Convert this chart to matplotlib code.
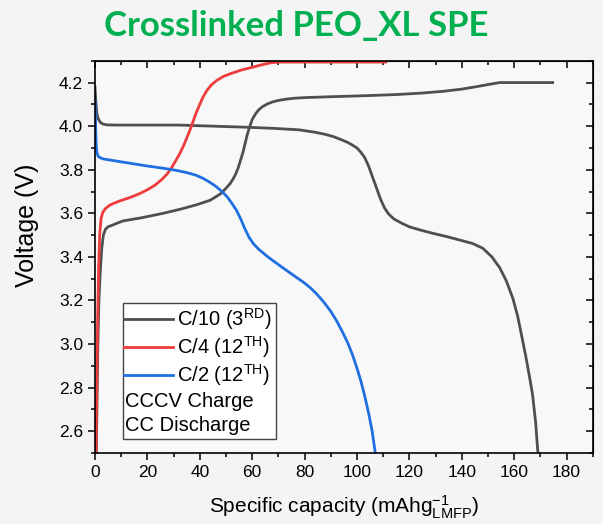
import matplotlib
matplotlib.use("Agg")
import matplotlib.pyplot as plt
from matplotlib.patches import Rectangle
from matplotlib.lines import Line2D
from matplotlib.ticker import MultipleLocator

plt.rcParams['font.family'] = ['Liberation Sans', 'DejaVu Sans']
plt.rcParams['mathtext.fontset'] = 'custom'
plt.rcParams['mathtext.rm'] = 'Liberation Sans'
plt.rcParams['mathtext.it'] = 'Liberation Sans'

# C/10, 3rd cycle (charge + discharge)
c10_chg_cap = [0.5, 0.8, 1.1, 1.5, 2.0, 2.6, 3.2, 4.0, 5.0, 6.5, 8.5, 10.7, 18, 26, 33, 39, 44, 46,
               48, 50, 51.5, 52.6, 53.7, 54.7, 55.6, 56.5, 57.3, 58.1, 59, 60, 61.2, 62.5, 64, 66,
               68, 70, 73, 76, 80, 90, 103.7, 115, 125, 133, 140, 146, 151, 154.5, 165, 174.7]
c10_chg_v = [2.5, 2.75, 3.0, 3.2, 3.33, 3.44, 3.5, 3.527, 3.538, 3.545, 3.555, 3.565, 3.58, 3.60,
             3.62, 3.64, 3.66, 3.675, 3.69, 3.715, 3.735, 3.755, 3.78, 3.81, 3.845, 3.88, 3.92,
             3.96, 3.995, 4.03, 4.055, 4.075, 4.09, 4.103, 4.112, 4.118, 4.124, 4.128, 4.131,
             4.135, 4.14, 4.145, 4.152, 4.16, 4.17, 4.182, 4.193, 4.2, 4.2, 4.2]
c10_dis_cap = [0, 0.3, 0.7, 1.2, 2, 3, 4.4, 8, 15, 32, 45, 58, 68, 78, 84, 88, 91, 94, 96.5, 98,
               100, 101.5, 103, 104.5, 106, 107.5, 109, 110.5, 112, 114, 117, 120, 124, 129, 134,
               139, 144, 148, 151.5, 154.5, 157, 159.5, 161.3, 163, 164.5, 166, 167, 168.2, 169,
               169.2]
c10_dis_v = [4.18, 4.12, 4.06, 4.035, 4.018, 4.01, 4.006, 4.005, 4.005, 4.005, 4.0, 3.995, 3.99,
             3.983, 3.972, 3.962, 3.952, 3.938, 3.925, 3.915, 3.90, 3.88, 3.855, 3.815, 3.765,
             3.715, 3.665, 3.625, 3.598, 3.575, 3.555, 3.538, 3.524, 3.508, 3.494, 3.478, 3.462,
             3.44, 3.40, 3.35, 3.29, 3.21, 3.13, 3.03, 2.94, 2.84, 2.77, 2.64, 2.51, 2.5]

# C/4, 12th cycle charge
c4_cap = [0.4, 0.7, 1.0, 1.4, 1.8, 2.3, 3, 4, 5.7, 9, 13.3, 17, 20, 23, 25.5, 27.5, 29.3, 31, 32.4,
          33.8, 35, 36.2, 37.4, 38.6, 40, 41.3, 42.8, 44.5, 46.5, 49, 52, 56, 60, 63.5, 66.7, 70,
          80, 111]
c4_v = [2.5, 2.8, 3.1, 3.35, 3.5, 3.575, 3.605, 3.622, 3.638, 3.655, 3.672, 3.69, 3.708, 3.73,
        3.755, 3.78, 3.81, 3.845, 3.875, 3.91, 3.945, 3.98, 4.02, 4.06, 4.1, 4.135, 4.165, 4.19,
        4.21, 4.228, 4.242, 4.258, 4.27, 4.281, 4.29, 4.294, 4.294, 4.294]

# C/2, 12th cycle discharge
c2_cap = [0, 0.15, 0.3, 0.45, 0.7, 1.2, 2, 3, 8, 13.3, 20, 26, 31, 35, 38.5, 41, 43.5, 46, 48.5,
          50.5, 52.3, 54, 55.6, 57.2, 58.8, 60.5, 62.5, 66, 71.7, 77, 80, 82.5, 85, 87.5, 90, 92.3,
          94.5, 96.5, 98.3, 100, 101.5, 103, 104.5, 105.8, 107]
c2_v = [4.12, 4.06, 3.98, 3.92, 3.88, 3.862, 3.855, 3.85, 3.84, 3.83, 3.817, 3.807, 3.797, 3.787,
        3.775, 3.762, 3.745, 3.725, 3.70, 3.675, 3.645, 3.614, 3.575, 3.53, 3.49, 3.46, 3.435,
        3.40, 3.35, 3.305, 3.28, 3.255, 3.225, 3.19, 3.15, 3.105, 3.055, 3.005, 2.95, 2.89,
        2.83, 2.76, 2.68, 2.6, 2.5]

gray = '#4f4f4f'
red = '#ee3b3b'
blue = '#1f6fe0'

fig = plt.figure(figsize=(6.03, 5.24), dpi=100, facecolor='#f4f4f4')
ax = fig.add_axes([0.1575, 0.1355, 0.8255, 0.7485], facecolor='#f8f8f8')

lw = 2.0
ax.plot(c10_chg_cap, c10_chg_v, color=gray, lw=lw)
ax.plot(c10_dis_cap, c10_dis_v, color=gray, lw=lw)
ax.plot(c4_cap, c4_v, color=red, lw=lw)
ax.plot(c2_cap, c2_v, color=blue, lw=lw)

ax.set_xticks(range(0, 181, 20))
ax.set_xlim(0, 190)
ax.set_ylim(2.5, 4.3)
ax.xaxis.set_minor_locator(MultipleLocator(10))
ax.yaxis.set_major_locator(MultipleLocator(0.2))
ax.yaxis.set_minor_locator(MultipleLocator(0.1))
ax.tick_params(which='both', direction='out', labelsize=12.5, width=1.1)
ax.tick_params(which='major', length=5)
ax.tick_params(which='minor', length=3)
for s in ax.spines.values():
    s.set_linewidth(1.2)

# mirrored ticks on top and right, pointing inward
top = ax.secondary_xaxis('top')
top.xaxis.set_major_locator(MultipleLocator(20))
top.xaxis.set_minor_locator(MultipleLocator(10))
top.tick_params(which='both', direction='in', labeltop=False, width=1.1)
top.tick_params(which='major', length=5)
top.tick_params(which='minor', length=3)
right = ax.secondary_yaxis('right')
right.yaxis.set_major_locator(MultipleLocator(0.2))
right.yaxis.set_minor_locator(MultipleLocator(0.1))
right.tick_params(which='both', direction='in', labelright=False, width=1.1)
right.tick_params(which='major', length=5)
right.tick_params(which='minor', length=3)

ax.set_xlabel(r'Specific capacity (mAhg$_{\mathrm{LMFP}}^{-1}$)', fontsize=15, labelpad=10)
ax.set_ylabel('Voltage (V)', fontsize=18)
ax.yaxis.set_label_coords(-0.112, 0.58)

# legend box
ax.add_patch(Rectangle((0.056, 0.036), 0.307, 0.346, transform=ax.transAxes,
                       facecolor='white', edgecolor='#444444', lw=1.0, zorder=5))
rows = [(r'C/10 (3$^{\mathrm{RD}}$)', gray, 0.342),
        (r'C/4 (12$^{\mathrm{TH}}$)', red, 0.271),
        (r'C/2 (12$^{\mathrm{TH}}$)', blue, 0.199)]
for label, col, y in rows:
    ax.add_line(Line2D([0.058, 0.157], [y, y], transform=ax.transAxes, color=col, lw=lw, zorder=6))
    ax.text(0.165, y, label, transform=ax.transAxes, fontsize=14.5, va='center', ha='left', zorder=6)
ax.text(0.060, 0.131, 'CCCV Charge', transform=ax.transAxes, fontsize=14.5, va='center', zorder=6)
ax.text(0.060, 0.071, 'CC Discharge', transform=ax.transAxes, fontsize=14.5, va='center', zorder=6)

fig.text(0.491, 0.950, 'Crosslinked PEO_XL SPE', ha='center', va='center', fontsize=25,
         fontweight='bold', color='#00b050', family=['Lato', 'DejaVu Sans'])

fig.savefig('out.png', dpi=100, facecolor=fig.get_facecolor())
